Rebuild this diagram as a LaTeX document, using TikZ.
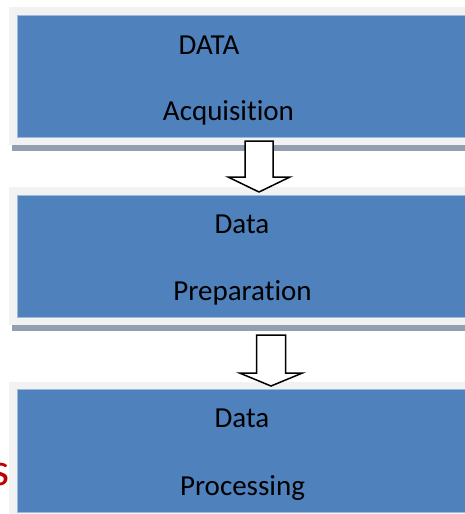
\documentclass[tikz,border=0pt]{standalone}
\usepackage{fontspec}
\setmainfont{Carlito}[Ligatures=NoCommon]
\usetikzlibrary{calc}
\definecolor{stageblue}{HTML}{4F81BD}
\definecolor{stageedge}{HTML}{9DB9DC}
\definecolor{framegray}{HTML}{F2F2F2}
\definecolor{shadowgray}{HTML}{939FAE}
\definecolor{sidered}{HTML}{C00000}
\begin{document}
\begin{tikzpicture}[x=1pt,y=-1pt,line join=round,
    stagetext/.style={anchor=base,inner sep=0pt,font=\fontsize{29}{34}\selectfont},
    stagebox/.style={fill=stageblue,draw=stageedge,line width=0.8pt},
    blockarrow/.style={draw=black,fill=white,line width=1.5pt,line join=miter}]
    \clip (0,0) rectangle (465,514);
    \fill[white] (0,0) rectangle (465,514);
    % acquisition
    \fill[framegray] (9,7) rectangle (480,145);
    \fill[shadowgray] (12,145) rectangle (480,151);
    \draw[stagebox] (17,15) rectangle (480,137);
    \node[stagetext] (acqtop) at (209,54) {DATA};
    \node[stagetext] (acqbot) at (228.5,120.5) {Acquisition};
    % preparation
    \fill[framegray] (9,187) rectangle (480,325);
    \fill[shadowgray] (12,325) rectangle (480,331);
    \draw[stagebox] (17,195) rectangle (480,317);
    \node[stagetext] (preptop) at (242,233) {Data};
    \node[stagetext] (prepbot) at (242.5,300.5) {Preparation};
    % processing
    \fill[framegray] (9,382) rectangle (480,520);
    \draw[stagebox] (17,389) rectangle (480,512);
    \node[stagetext] (proctop) at (242,427) {Data};
    \node[stagetext] (procbot) at (242.5,495) {Processing};
    \node[anchor=base east,inner sep=0pt,text=sidered,font=\fontsize{46}{50}\selectfont] (side) at (10,485) {s};
    % arrows
    \coordinate (arr1) at (259,141); \coordinate (tip1) at (259,192);
    \draw[blockarrow] ($(arr1)+(-14,0)$) -- ++(0,36) -- ++(-17,0) -- (tip1) -- ++(31,-15) -- ++(-17,0) -- ++(0,-36) -- cycle;
    \coordinate (arr2) at (271,335); \coordinate (tip2) at (271,386);
    \draw[blockarrow] ($(arr2)+(-14.5,0)$) -- ++(0,38) -- ++(-17,0) -- (tip2) -- ++(31.5,-13) -- ++(-17,0) -- ++(0,-38) -- cycle;
\end{tikzpicture}
\end{document}
